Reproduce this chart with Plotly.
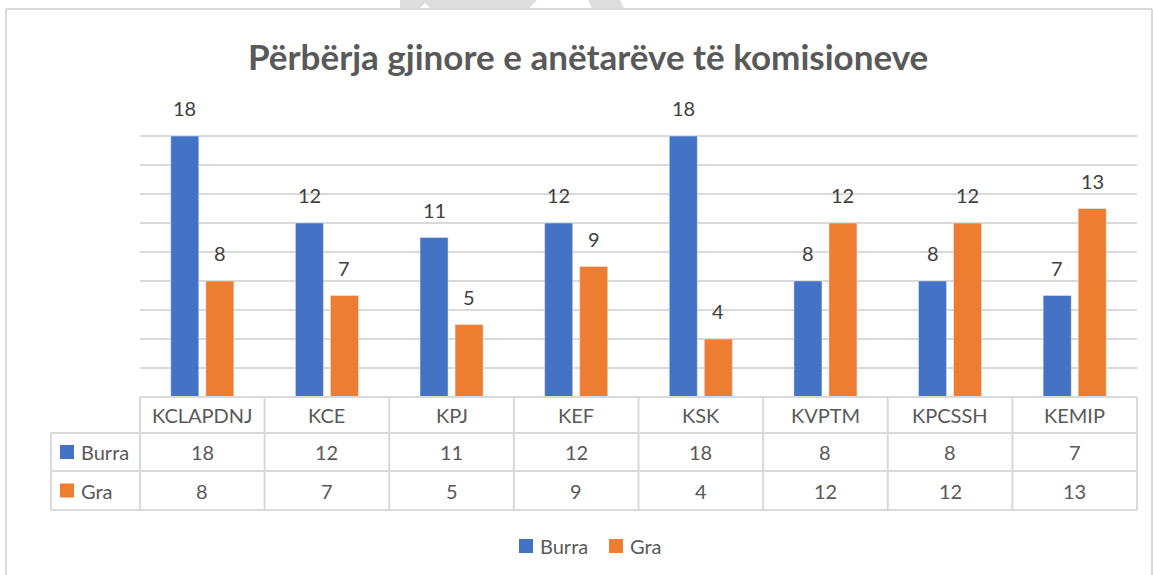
import plotly.graph_objects as go

categories = ["KCLAPDNJ", "KCE", "KPJ", "KEF", "KSK", "KVPTM", "KPCSSH", "KEMIP"]
burra = [18, 12, 11, 12, 18, 8, 8, 7]
gra = [8, 7, 5, 9, 4, 12, 12, 13]
series_names = ["Burra", "Gra"]
title_text = "Përbërja gjinore e anëtarëve të komisioneve"

BLUE = "#4472C4"
ORANGE = "#ED7D31"
GRID = "#D9D9D9"
TXT = "#595959"
LBL = "#404040"
FONT = "Lato"

W, H = 1153, 575
L, R, T, B = 140, 1137, 107, 397  # plot area in pixels
pw, ph = R - L, B - T


def px(x):
    return (x - L) / pw


def py(y):
    return (B - y) / ph


fig = go.Figure()
for vals, nm, col in [(burra, series_names[0], BLUE), (gra, series_names[1], ORANGE)]:
    fig.add_trace(go.Bar(x=categories, y=vals, name=nm, marker_color=col))

shapes = []
annotations = []
line = dict(color=GRID, width=2)

# data labels above bars
for vals, dx in [(burra, -17.5), (gra, 17.5)]:
    for c, v in zip(categories, vals):
        annotations.append(dict(x=c, y=v, xref="x", yref="y", text=str(v), showarrow=False,
                                xanchor="center", yanchor="middle", xshift=dx, yshift=28,
                                font=dict(size=20, color=LBL, family=FONT)))

# chart outer border
shapes.append(dict(type="line", xref="paper", yref="paper", x0=px(6), x1=px(6), y0=py(9), y1=py(580), line=line, layer="below"))
shapes.append(dict(type="line", xref="paper", yref="paper", x0=px(6), x1=px(1152), y0=py(9), y1=py(9), line=line, layer="below"))
shapes.append(dict(type="line", xref="paper", yref="paper", x0=px(1152), x1=px(1152), y0=py(9), y1=py(580), line=line, layer="below"))

# watermark fragments at top
for path_pts in [[(400, 0), (537, 0), (529, 8), (430, 8), (425, 3), (420, 8), (400, 8)],
                 [(588, 0), (620, 0), (624, 8), (592, 8)]]:
    d = "M " + " L ".join(f"{px(x)},{py(y)}" for x, y in path_pts) + " Z"
    shapes.append(dict(type="path", xref="paper", yref="paper", path=d,
                       fillcolor="#DDDDDD", line=dict(width=0), layer="below"))

# data table
n = len(categories)
cw = pw / n
rows_y = [397, 433, 471, 510]
tbl_left = 51
shapes.append(dict(type="line", xref="paper", yref="paper", x0=px(L), x1=px(R), y0=py(rows_y[0]), y1=py(rows_y[0]), line=line))
for yy in rows_y[1:]:
    shapes.append(dict(type="line", xref="paper", yref="paper", x0=px(tbl_left), x1=px(R), y0=py(yy), y1=py(yy), line=line))
shapes.append(dict(type="line", xref="paper", yref="paper", x0=px(tbl_left), x1=px(tbl_left), y0=py(rows_y[1]), y1=py(rows_y[3]), line=line))
for i in range(n + 1):
    xx = L + i * cw
    shapes.append(dict(type="line", xref="paper", yref="paper", x0=px(xx), x1=px(xx), y0=py(rows_y[0]), y1=py(rows_y[3]), line=line))

for i, c in enumerate(categories):
    cx = L + (i + 0.5) * cw
    annotations.append(dict(x=px(cx), y=py((rows_y[0] + rows_y[1]) / 2), xref="paper", yref="paper",
                            xanchor="center", yanchor="middle",
                            text=c, showarrow=False, font=dict(size=20, color=TXT, family=FONT)))
    for r, vals in enumerate([burra, gra]):
        annotations.append(dict(x=px(cx), y=py((rows_y[r + 1] + rows_y[r + 2]) / 2), xref="paper", yref="paper",
                                xanchor="center", yanchor="middle",
                                text=str(vals[i]), showarrow=False, font=dict(size=20, color=TXT, family=FONT)))

# row headers with colour keys
for r, (nm, col) in enumerate(zip(series_names, [BLUE, ORANGE])):
    yc = (rows_y[r + 1] + rows_y[r + 2]) / 2
    shapes.append(dict(type="rect", xref="paper", yref="paper", x0=px(60), x1=px(74), y0=py(yc - 7), y1=py(yc + 7),
                       fillcolor=col, line=dict(width=0)))
    annotations.append(dict(x=px(79), y=py(yc), xref="paper", yref="paper", xanchor="left", yanchor="middle",
                            text=nm, showarrow=False, font=dict(size=20, color=TXT, family=FONT)))

# bottom legend
leg_y = 546
for (x0, nm, col) in [(519, series_names[0], BLUE), (609, series_names[1], ORANGE)]:
    shapes.append(dict(type="rect", xref="paper", yref="paper", x0=px(x0), x1=px(x0 + 14), y0=py(leg_y - 7), y1=py(leg_y + 7),
                       fillcolor=col, line=dict(width=0)))
    annotations.append(dict(x=px(x0 + 19), y=py(leg_y), xref="paper", yref="paper", xanchor="left", yanchor="middle",
                            text=nm, showarrow=False, font=dict(size=20, color=TXT, family=FONT)))

# title
annotations.append(dict(x=px(588), y=py(56), xref="paper", yref="paper", xanchor="center", yanchor="middle",
                        text="<b>" + title_text + "</b>",
                        showarrow=False, font=dict(size=35, color=TXT, family=FONT)))

# caption above the chart, cut off at the top edge as in the source
annotations.append(dict(x=px(0), y=py(4), xref="paper", yref="paper", xanchor="left", yanchor="bottom",
                        text="<b>Grafiku nr.2</b>", showarrow=False,
                        font=dict(size=16, color="#000000", family="Liberation Serif")))

fig.update_layout(
    width=W, height=H,
    margin=dict(l=L, r=W - R, t=T, b=H - B, pad=0),
    paper_bgcolor="white", plot_bgcolor="white",
    barmode="group", bargap=0.438, bargroupgap=0.2,
    showlegend=False,
    xaxis=dict(showticklabels=False, showgrid=False, zeroline=False, showline=False, ticks=""),
    yaxis=dict(range=[0, 20], dtick=2, showticklabels=False, showgrid=True, gridcolor=GRID, gridwidth=2,
               zeroline=False, showline=False, ticks=""),
    shapes=shapes, annotations=annotations,
    font=dict(family=FONT),
)

fig.write_html("out.html", config={"displayModeBar": False},
               post_script="document.body.style.margin='0';document.body.style.overflow='hidden';")
